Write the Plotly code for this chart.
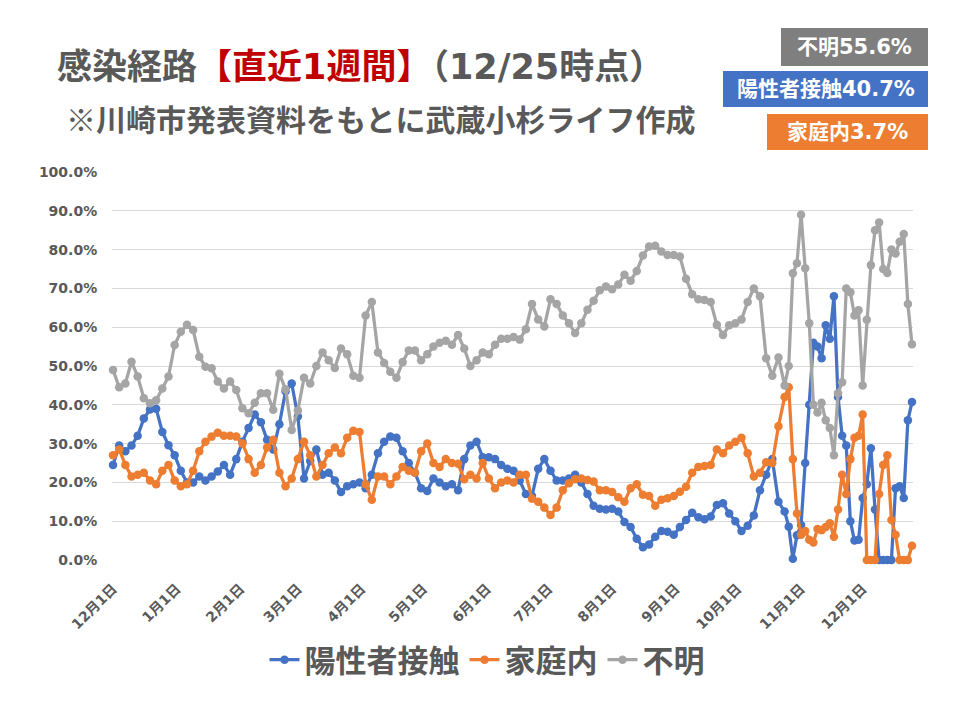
import pandas as pd
import plotly.graph_objects as go

# ---- data (percent), sampled on the day offsets below, counted from 2020-12-01 ----
start_date = "2020-12-01"
day_offsets = list(range(0, 328, 3)) + list(range(329, 390, 2))

contact = [  # 陽性者接触
    24.5, 29.5, 28.0, 29.5, 32.0, 36.5, 38.8, 39.0, 33.0, 29.6, 27.0, 23.0, 20.0, 20.0, 21.5, 20.5, 21.5, 22.8, 24.5, 22.0, 26.0, 30.5,
    34.0, 37.5, 35.5, 31.0, 28.5, 35.0, 43.5, 45.5, 37.0, 21.0, 25.5, 28.5, 22.0, 22.5, 20.5, 17.5, 19.0, 19.5, 20.0, 18.5, 22.0,
    27.5, 30.5, 31.8, 31.5, 28.0, 25.0, 22.5, 18.5, 17.8, 21.0, 20.0, 19.0, 19.5, 18.0, 26.0, 29.5, 30.5, 26.5, 26.5, 26.0, 24.5, 23.5, 23.0,
    20.5, 17.0, 16.5, 23.5, 26.0, 23.0, 20.5, 20.5, 21.0, 22.0, 20.0, 17.0, 14.0, 13.2, 13.0, 13.2, 12.5, 9.8, 8.5, 5.5, 3.3, 4.0,
    6.0, 7.5, 7.3, 6.5, 8.5, 10.3, 12.2, 11.0, 10.5, 11.2, 14.2, 14.6, 12.0, 10.0, 7.5, 8.8, 11.5, 18.0, 22.0, 26.0, 15.0, 12.5,
    8.6, 0.3, 6.4, 9.0, 25.0, 40.0, 56.0, 55.0, 52.0, 60.5, 57.0, 68.0, 42.0, 32.0, 29.5, 10.0, 5.0, 5.2, 16.0, 19.5, 28.8, 13.0,
    0.0, 0.0, 0.0, 0.0, 18.5, 19.0, 16.0, 36.0, 40.7,
]
household = [  # 家庭内
    27.0, 28.5, 24.5, 21.5, 22.0, 22.5, 20.5, 19.5, 23.0, 24.5, 20.5, 19.0, 19.5, 23.0, 28.0, 30.5, 31.8, 32.8, 32.0, 32.0, 31.8, 30.0,
    26.0, 22.5, 24.5, 29.0, 31.0, 22.5, 19.0, 21.0, 26.0, 30.5, 27.0, 21.5, 24.5, 27.5, 29.0, 27.5, 31.5, 33.3, 33.0, 19.5, 15.5,
    21.5, 21.5, 19.5, 21.5, 24.0, 23.0, 22.5, 28.0, 30.0, 25.0, 24.0, 26.0, 25.0, 24.8, 20.8, 22.0, 21.0, 25.0, 21.0, 18.5, 20.0, 20.5, 20.0,
    22.0, 22.0, 15.8, 15.0, 13.5, 11.6, 13.5, 18.0, 19.8, 20.8, 21.0, 20.6, 20.2, 18.0, 18.0, 17.5, 16.2, 15.0, 18.5, 19.5, 16.8, 16.5,
    14.0, 15.5, 15.9, 16.5, 17.6, 18.9, 22.5, 24.0, 24.2, 24.5, 28.5, 27.5, 29.5, 30.5, 31.5, 27.5, 21.5, 22.5, 25.2, 25.0, 34.5, 42.0,
    44.5, 26.0, 12.0, 6.5, 7.5, 5.2, 4.5, 8.0, 7.7, 8.5, 9.5, 6.0, 13.0, 22.0, 17.0, 26.0, 31.5, 32.0, 37.5, 0.0, 0.0, 0.0,
    17.0, 24.5, 27.0, 10.3, 6.5, 0.0, 0.0, 0.0, 3.7,
]
unknown = [  # 不明
    49.0, 44.5, 45.5, 51.1, 47.3, 41.7, 40.4, 41.2, 44.2, 47.3, 55.4, 58.8, 60.6, 59.3, 52.4, 49.8, 49.4, 46.0, 44.2, 46.0, 43.8, 39.1,
    37.8, 40.5, 43.0, 43.0, 38.7, 48.0, 44.0, 33.5, 38.5, 47.0, 45.5, 50.0, 53.5, 51.5, 49.5, 54.5, 53.0, 47.5, 47.0, 63.0, 66.5,
    53.5, 50.8, 48.5, 47.0, 51.0, 54.0, 54.0, 51.5, 53.0, 55.0, 56.0, 56.5, 55.5, 58.0, 54.5, 50.0, 51.5, 53.5, 53.0, 55.5, 57.0, 57.0, 57.5,
    56.8, 59.5, 66.0, 62.0, 60.2, 67.2, 66.0, 63.0, 61.0, 58.5, 61.0, 64.5, 66.8, 69.5, 70.5, 69.8, 71.0, 73.5, 72.0, 74.5, 78.5, 80.8,
    81.0, 79.5, 78.6, 78.6, 78.2, 72.5, 68.5, 67.2, 67.0, 66.5, 60.6, 58.0, 60.5, 61.0, 62.0, 66.5, 70.0, 68.0, 52.0, 47.5, 52.2, 45.0,
    50.0, 73.9, 76.5, 89.0, 75.2, 61.0, 40.0, 38.0, 40.5, 36.0, 34.0, 27.0, 43.0, 45.8, 70.0, 69.0, 63.0, 64.4, 45.0, 61.9, 76.0, 85.0,
    87.0, 75.0, 74.0, 80.0, 79.0, 82.0, 84.0, 66.0, 55.6,
]
series_names = ["陽性者接触", "家庭内", "不明"]
series_colors = ["#4472C4", "#ED7D31", "#A5A5A5"]

tick_dates = ["2020-12-01", "2021-01-01", "2021-02-01", "2021-03-01", "2021-04-01", "2021-05-01", "2021-06-01",
              "2021-07-01", "2021-08-01", "2021-09-01", "2021-10-01", "2021-11-01", "2021-12-01"]
tick_labels = ["12月1日", "1月1日", "2月1日", "3月1日", "4月1日", "5月1日", "6月1日",
               "7月1日", "8月1日", "9月1日", "10月1日", "11月1日", "12月1日"]

dates = pd.Timestamp(start_date) + pd.to_timedelta(day_offsets, unit="D")

FONT = "Noto Sans CJK JP"
TICKFONT = "DejaVu Sans, Noto Sans CJK JP"
GRAY_TXT = "#595959"
W, H = 960, 720
OFF = 8  # page body margin
L, R, T, B = 112 - OFF, 960 - 913 + OFF, 172 - OFF, 720 - 560 + OFF


def pxx(px):
    return (px - OFF - L) / (W - L - R)


def pxy(py):
    return (H - B - (py - OFF)) / (H - T - B)


fig = go.Figure()
for name, col, vals in zip(series_names, series_colors, [contact, household, unknown]):
    fig.add_trace(go.Scatter(
        x=dates, y=vals, name=name, mode="lines+markers",
        line=dict(color=col, width=3.25),
        marker=dict(color=col, size=8.5),
        cliponaxis=False,
    ))

DIG = "<span style='font-family:DejaVu Sans'>{}</span>"
title_text = ("感染経路<span style='color:#C00000'>【直近" + DIG.format("1") + "週間】</span>（"
              + DIG.format("12/25") + "時点）")

fig.update_layout(
    width=W, height=H,
    margin=dict(l=L, r=R, t=T, b=B, autoexpand=False),
    paper_bgcolor="white", plot_bgcolor="white",
    font=dict(family=FONT, color=GRAY_TXT),
    showlegend=True,
    legend=dict(
        orientation="h", xref="container", yref="container",
        x=(487 - OFF) / W, xanchor="center", y=1 - (660 - OFF) / H, yanchor="middle",
        font=dict(size=31, family=FONT, color=GRAY_TXT, weight="bold"),
        itemwidth=30, tracegroupgap=0,
    ),
    title=dict(
        text=title_text,
        xref="container", yref="container",
        x=(57 - OFF) / W, xanchor="left", y=1 - (67 - OFF) / H, yanchor="middle",
        font=dict(size=35, family=FONT, color=GRAY_TXT, weight="bold"),
    ),
)

fig.update_xaxes(
    type="date", automargin=False,
    range=[pd.Timestamp("2020-11-30 12:00"), pd.Timestamp("2021-12-25 12:00")],
    tickvals=pd.to_datetime(tick_dates), ticktext=tick_labels,
    tickangle=-45, showgrid=False, zeroline=False, showline=False,
    ticks="outside", ticklen=14, tickcolor="rgba(0,0,0,0)",
    tickfont=dict(size=14, family=TICKFONT, color=GRAY_TXT, weight="bold"),
)
fig.update_yaxes(
    range=[0, 100], dtick=10, tickformat=".1f", ticksuffix="%", automargin=False,
    showgrid=True, gridcolor="#D9D9D9", gridwidth=1,
    zeroline=False, showline=False,
    ticks="outside", ticklen=11, tickcolor="rgba(0,0,0,0)",
    tickfont=dict(size=14, family=TICKFONT, color=GRAY_TXT, weight="bold"),
)

# subtitle
fig.add_annotation(
    xref="paper", yref="paper", x=pxx(64), y=pxy(118), xanchor="left", yanchor="middle",
    text="※川崎市発表資料をもとに武蔵小杉ライフ作成", showarrow=False,
    font=dict(size=30, family=FONT, color=GRAY_TXT, weight="bold"),
)

# badges with latest values
badges = [
    (f"不明{unknown[-1]:.1f}%", "#7F7F7F", 781, 928, 28, 66),
    (f"陽性者接触{contact[-1]:.1f}%", "#4472C4", 723, 928, 71, 107),
    (f"家庭内{household[-1]:.1f}%", "#ED7D31", 767, 928, 114, 150),
]
for text, col, x0, x1, y0, y1 in badges:
    fig.add_shape(type="rect", xref="paper", yref="paper",
                  x0=pxx(x0), x1=pxx(x1), y0=pxy(y1), y1=pxy(y0),
                  fillcolor=col, line=dict(width=0), layer="above")
    fig.add_annotation(xref="paper", yref="paper", x=pxx((x0 + x1) / 2), y=pxy((y0 + y1) / 2),
                       xanchor="center", yanchor="middle", text=text, showarrow=False,
                       font=dict(size=21, family=TICKFONT, color="white", weight="bold"))

fig.write_html("out.html")
